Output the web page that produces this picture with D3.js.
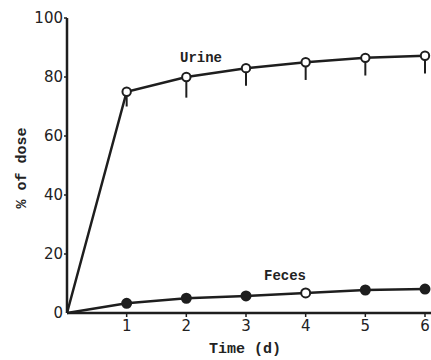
<!DOCTYPE html>
<html>
<head>
<meta charset="utf-8">
<script src="https://cdn.jsdelivr.net/npm/d3@7"></script>
<style>
	body { margin: 0; background: #fff; }
	svg { display: block; }
	.tick-label { font-family: 'DejaVu Sans', sans-serif; font-size: 15px; fill: #222; }
	.mono { font-family: 'Liberation Mono', 'DejaVu Sans Mono', monospace; font-weight: bold; fill: #222; }
</style>
</head>
<body>
<svg id="chart"></svg>
<script>
const WIDTH = 431;
const HEIGHT = 360;

const days = [0, 1, 2, 3, 4, 5, 6];
const urine = [0, 75, 80, 83, 85, 86.5, 87.2];
const urineErr = [0, 5, 7, 6, 6, 6, 6];
const feces = [0, 3.3, 5, 5.8, 6.8, 7.8, 8.1];
// feces day 4 drawn as an open circle in the original
const fecesOpen = [false, false, false, false, true, false, false];
const xTicks = [1, 2, 3, 4, 5, 6];
const yTicks = [0, 20, 40, 60, 80, 100];

const ink = '#1e1e1e';

const svg = d3.select('#chart').attr('width', WIDTH).attr('height', HEIGHT);

const x = d3.scaleLinear().domain([0, 6]).range([67, 425]);
const y = d3.scaleLinear().domain([0, 100]).range([313, 18]);

// AXES
svg.append('line')
	.attr('x1', x(0)).attr('x2', 431)
	.attr('y1', y(0)).attr('y2', y(0))
	.attr('stroke', ink).attr('stroke-width', 2.5);

svg.append('line')
	.attr('x1', x(0)).attr('x2', x(0))
	.attr('y1', y(0)).attr('y2', y(100))
	.attr('stroke', ink).attr('stroke-width', 2.5);

svg.selectAll('.ytick')
	.data(yTicks.filter((d) => d > 0))
	.enter()
	.append('line')
	.attr('x1', x(0) - 3).attr('x2', x(0))
	.attr('y1', (d) => y(d)).attr('y2', (d) => y(d))
	.attr('stroke', ink).attr('stroke-width', 1.5);

svg.selectAll('.ylabel')
	.data(yTicks)
	.enter()
	.append('text')
	.attr('class', 'tick-label')
	.attr('x', x(0) - 4)
	.attr('y', (d) => y(d))
	.attr('text-anchor', 'end')
	.attr('dominant-baseline', 'middle')
	.text((d) => d);

svg.selectAll('.xtick')
	.data(xTicks)
	.enter()
	.append('line')
	.attr('x1', (d) => x(d)).attr('x2', (d) => x(d))
	.attr('y1', y(0)).attr('y2', y(0) + 4)
	.attr('stroke', ink).attr('stroke-width', 1.5);

svg.selectAll('.xlabel')
	.data(xTicks)
	.enter()
	.append('text')
	.attr('class', 'tick-label')
	.attr('x', (d) => x(d))
	.attr('y', y(0) + 18)
	.attr('text-anchor', 'middle')
	.text((d) => d);

svg.append('text')
	.attr('class', 'mono')
	.attr('x', 245).attr('y', 353)
	.attr('text-anchor', 'middle')
	.attr('font-size', '15px')
	.text('Time (d)');

svg.append('text')
	.attr('class', 'mono')
	.attr('transform', 'translate(26,168) rotate(-90)')
	.attr('text-anchor', 'middle')
	.attr('font-size', '15px')
	.text('% of dose');

// SERIES
const line = d3.line()
	.x((d, i) => x(days[i]))
	.y((d) => y(d));

svg.append('path')
	.datum(urine)
	.attr('d', line)
	.attr('fill', 'none')
	.attr('stroke', ink)
	.attr('stroke-width', 2.5);

svg.append('path')
	.datum(feces)
	.attr('d', line)
	.attr('fill', 'none')
	.attr('stroke', ink)
	.attr('stroke-width', 2.5);

// error bars (downward only)
svg.selectAll('.err')
	.data(urine.map((v, i) => ({ day: days[i], v, e: urineErr[i] })).filter((d) => d.day > 0))
	.enter()
	.append('line')
	.attr('x1', (d) => x(d.day)).attr('x2', (d) => x(d.day))
	.attr('y1', (d) => y(d.v)).attr('y2', (d) => y(d.v - d.e))
	.attr('stroke', ink).attr('stroke-width', 2);

svg.selectAll('.urine-pt')
	.data(urine.map((v, i) => ({ day: days[i], v })).filter((d) => d.day > 0))
	.enter()
	.append('circle')
	.attr('cx', (d) => x(d.day)).attr('cy', (d) => y(d.v))
	.attr('r', 4.2)
	.attr('fill', '#fff')
	.attr('stroke', ink).attr('stroke-width', 2);

svg.selectAll('.feces-pt')
	.data(feces.map((v, i) => ({ day: days[i], v, open: fecesOpen[i] })).filter((d) => d.day > 0))
	.enter()
	.append('circle')
	.attr('cx', (d) => x(d.day)).attr('cy', (d) => y(d.v))
	.attr('r', 4.5)
	.attr('fill', (d) => (d.open ? '#fff' : ink))
	.attr('stroke', ink).attr('stroke-width', 2);

// series labels
svg.append('text')
	.attr('class', 'mono')
	.attr('x', 201).attr('y', 62)
	.attr('text-anchor', 'middle')
	.attr('font-size', '14px')
	.text('Urine');

svg.append('text')
	.attr('class', 'mono')
	.attr('x', 285).attr('y', 280)
	.attr('text-anchor', 'middle')
	.attr('font-size', '14px')
	.text('Feces');
</script>
</body>
</html>
